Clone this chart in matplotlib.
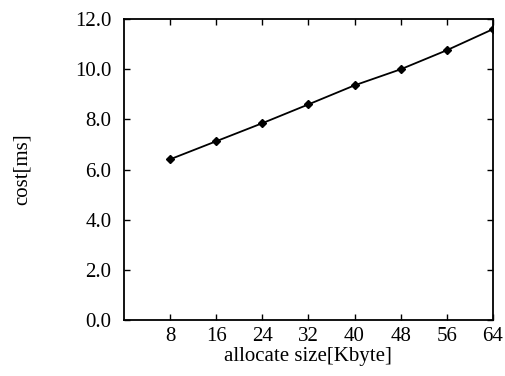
import matplotlib.pyplot as plt

plt.rcParams['font.family'] = ['Liberation Serif', 'DejaVu Serif']

# allocate size [Kbyte] vs cost [ms]
sizes = [8, 16, 24, 32, 40, 48, 56, 64]
costs = [6.41, 7.13, 7.85, 8.6, 9.36, 10.0, 10.76, 11.6]
yticks = [0.0, 2.0, 4.0, 6.0, 8.0, 10.0, 12.0]

fig = plt.figure(figsize=(5.05, 3.76), dpi=100)
ax = fig.add_axes([0.2455, 0.149, 0.7305, 0.80])

ax.plot(sizes, costs, '-', color='black', linewidth=1.3,
        marker='D', markersize=4, markerfacecolor='black')

ax.set_xlim(0, 64)
ax.set_ylim(0, 12)
ax.set_xticks(sizes)
ax.set_yticks(yticks)
ax.set_yticklabels([f"{v:.1f}" for v in yticks])
ax.tick_params(direction='in', top=True, right=True, labelsize=15,
               length=4, width=1)
ax.tick_params(axis='y', pad=9)
ax.tick_params(axis='x', pad=5)
for s in ax.spines.values():
    s.set_linewidth(1.3)

ax.set_xlabel("allocate size[Kbyte]", fontsize=15, labelpad=1)
ax.set_ylabel("cost[ms]", fontsize=15, labelpad=31)

plt.savefig("out.png", dpi=100)
